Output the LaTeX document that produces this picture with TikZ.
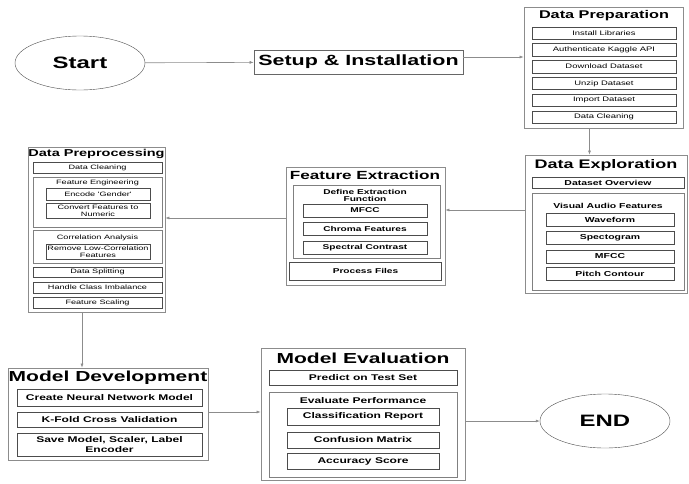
\documentclass[tikz,border=0pt]{standalone}
\usepackage{fontspec}
\setmainfont{Liberation Sans}
\newfontfamily\wide[FakeStretch=1.45]{Liberation Sans}
\usetikzlibrary{arrows.meta,positioning,shapes.geometric}

\begin{document}
\begin{tikzpicture}[x=1pt,y=-1pt,>={Latex[length=4pt,width=3pt]},
  term/.style={draw=black!70,ellipse,minimum width=130pt,minimum height=54pt,font=\wide\bfseries\fontsize{16.5}{18}\selectfont},
  box/.style={draw=black!45,line width=.7pt,inner sep=0pt},
  grp/.style={draw=black!50,inner sep=0pt},
  itm/.style={draw=black!70,inner sep=0pt,align=center},
  lbl/.style={inner sep=0pt,align=center},
  fa/.style={font=\wide\fontsize{6.5}{7.2}\selectfont},
  fb/.style={font=\wide\fontsize{6.3}{7}\selectfont},
  fc/.style={font=\wide\bfseries\fontsize{7}{7.6}\selectfont},
  fd/.style={font=\wide\bfseries\fontsize{7.2}{8}\selectfont},
  fe/.style={font=\wide\bfseries\fontsize{8.3}{9.2}\selectfont},
  arr/.style={->,draw=black!45,line width=.6pt}]
  \useasboundingbox (0,0) rectangle (689,483);
  % terminals and setup
  \node[term] (start) at (80,63) {Start};
  \node[term] (end) at (605,421) {END};
  \node[draw=black!60,line width=.7pt,minimum width=209pt,minimum height=24pt,inner sep=0pt,font=\wide\bfseries\fontsize{14.8}{15.5}\selectfont] (setup) at (358.5,62) {Setup \& Installation};
  % data preparation
  \node[box,minimum width=159pt,minimum height=121pt] (prep) at (603.5,67.5) {};
  \node[lbl,font=\wide\bfseries\fontsize{11.2}{12}\selectfont] (prept) at (604,16) {Data Preparation};
  \node[itm,fa,minimum width=144pt,minimum height=12.5pt] (p1) at (604,33) {Install Libraries};
  \node[itm,fa,minimum width=144pt,minimum height=12.5pt] (p2) at (604,49.8) {Authenticate Kaggle API};
  \node[itm,fa,minimum width=144pt,minimum height=12.5pt] (p3) at (604,66.6) {Download Dataset};
  \node[itm,fa,minimum width=144pt,minimum height=12.5pt] (p4) at (604,83.4) {Unzip Dataset};
  \node[itm,fa,minimum width=144pt,minimum height=12.5pt] (p5) at (604,100.2) {Import Dataset};
  \node[itm,fa,minimum width=144pt,minimum height=12.5pt] (p6) at (604,117) {Data Cleaning};
  % data exploration
  \node[box,minimum width=162pt,minimum height=138pt] (explore) at (606,224) {};
  \node[lbl,font=\wide\bfseries\fontsize{12.4}{13}\selectfont] (exploret) at (606,165) {Data Exploration};
  \node[itm,fd,minimum width=152pt,minimum height=11.5pt] (e0) at (608,182.5) {Dataset Overview};
  \node[grp,minimum width=152pt,minimum height=97pt] (vis) at (608,241.5) {};
  \node[lbl,fd] (vist) at (608,206) {Visual Audio Features};
  \node[itm,fd,minimum width=128pt,minimum height=13pt] (e1) at (610,219.5) {Waveform};
  \node[itm,fd,minimum width=128pt,minimum height=13pt] (e2) at (610,238) {Spectogram};
  \node[itm,fd,minimum width=128pt,minimum height=13pt] (e3) at (610,256.5) {MFCC};
  \node[itm,fd,minimum width=128pt,minimum height=13pt] (e4) at (610,273.5) {Pitch Contour};
  % feature extraction
  \node[box,minimum width=159pt,minimum height=118pt] (feat) at (365.5,226) {};
  \node[lbl,font=\wide\bfseries\fontsize{11.8}{12.5}\selectfont] (featt) at (365,175.5) {Feature Extraction};
  \node[grp,minimum width=147pt,minimum height=73pt] (def) at (366.5,221.5) {};
  \node[lbl,fc] (deft) at (365,195.5) {Define Extraction\\Function};
  \node[itm,fc,minimum width=124pt,minimum height=13pt] (f1) at (365,210.5) {MFCC};
  \node[itm,fc,minimum width=124pt,minimum height=13pt] (f2) at (365,229) {Chroma Features};
  \node[itm,fc,minimum width=124pt,minimum height=13pt] (f3) at (365,248) {Spectral Contrast};
  \node[itm,fc,minimum width=152pt,minimum height=18pt] (f4) at (365.5,271) {Process Files};
  % data preprocessing
  \node[box,minimum width=137pt,minimum height=165pt] (pre) at (96.5,229.5) {};
  \node[lbl,font=\wide\bfseries\fontsize{10}{11}\selectfont] (pret) at (96.5,154) {Data Preprocessing};
  \node[itm,fb,minimum width=129pt,minimum height=11pt] (r1) at (97.5,167.5) {Data Cleaning};
  \node[grp,minimum width=129pt,minimum height=50pt] (eng) at (97.5,202) {};
  \node[lbl,fb] (engt) at (97.5,183) {Feature Engineering};
  \node[itm,fb,minimum width=104pt,minimum height=12pt] (r2) at (98,194) {Encode 'Gender'};
  \node[itm,fb,minimum width=104pt,minimum height=15pt] (r3) at (98,210.5) {Convert Features to\\Numeric};
  \node[grp,minimum width=129pt,minimum height=33pt] (cor) at (97.5,246.5) {};
  \node[lbl,fb] (cort) at (97.5,238) {Correlation Analysis};
  \node[itm,fb,minimum width=104pt,minimum height=15pt] (r4) at (98,251.5) {Remove Low-Correlation\\Features};
  \node[itm,fb,minimum width=129pt,minimum height=10.5pt] (r5) at (97.5,272) {Data Splitting};
  \node[itm,fb,minimum width=129pt,minimum height=11pt] (r6) at (97.5,287.5) {Handle Class Imbalance};
  \node[itm,fb,minimum width=129pt,minimum height=11pt] (r7) at (97.5,302.5) {Feature Scaling};
  % model development
  \node[box,minimum width=200pt,minimum height=92pt] (dev) at (108,414) {};
  \node[lbl,font=\wide\bfseries\fontsize{14.5}{15.5}\selectfont] (devt) at (108,378) {Model Development};
  \node[itm,fe,minimum width=185pt,minimum height=17pt] (d1) at (109.5,398) {Create Neural Network Model};
  \node[itm,fe,minimum width=185pt,minimum height=15pt] (d2) at (109.5,419.5) {K-Fold Cross Validation};
  \node[itm,fe,minimum width=185pt,minimum height=23pt] (d3) at (109.5,444.5) {Save Model, Scaler, Label\\Encoder};
  % model evaluation
  \node[box,minimum width=204pt,minimum height=132pt] (eval) at (363,414) {};
  \node[lbl,font=\wide\bfseries\fontsize{14.5}{15.5}\selectfont] (evalt) at (363,358) {Model Evaluation};
  \node[itm,fe,minimum width=188pt,minimum height=15pt] (v0) at (363,377.5) {Predict on Test Set};
  \node[grp,minimum width=188pt,minimum height=85pt] (perf) at (363,434.5) {};
  \node[lbl,fe] (perft) at (363,401) {Evaluate Performance};
  \node[itm,fe,minimum width=152pt,minimum height=17pt] (v1) at (363,416.5) {Classification Report};
  \node[itm,fe,minimum width=152pt,minimum height=16pt] (v2) at (363,440) {Confusion Matrix};
  \node[itm,fe,minimum width=152pt,minimum height=16pt] (v3) at (363,461) {Accuracy Score};
  % connectors
  \draw[arr] (start)--(setup);
  \draw[arr] ([yshift=5pt]setup.east)--([yshift=5pt]setup.east -| prep.west);
  \draw[arr] ([xshift=-14pt]prep.south)--([xshift=-14pt]prep.south |- explore.north);
  \draw[arr] ([yshift=14pt]explore.west)--([yshift=14pt]explore.west -| feat.east);
  \draw[arr] ([yshift=8pt]feat.west)--([yshift=8pt]feat.west -| pre.east);
  \draw[arr] ([xshift=-14.5pt]pre.south)--([xshift=-14.5pt]pre.south |- dev.north);
  \draw[arr] ([yshift=2pt]dev.east)--([yshift=2pt]dev.east -| eval.west);
  \draw[arr] (eval.east |- end.west)--(end.west);
\end{tikzpicture}
\end{document}
